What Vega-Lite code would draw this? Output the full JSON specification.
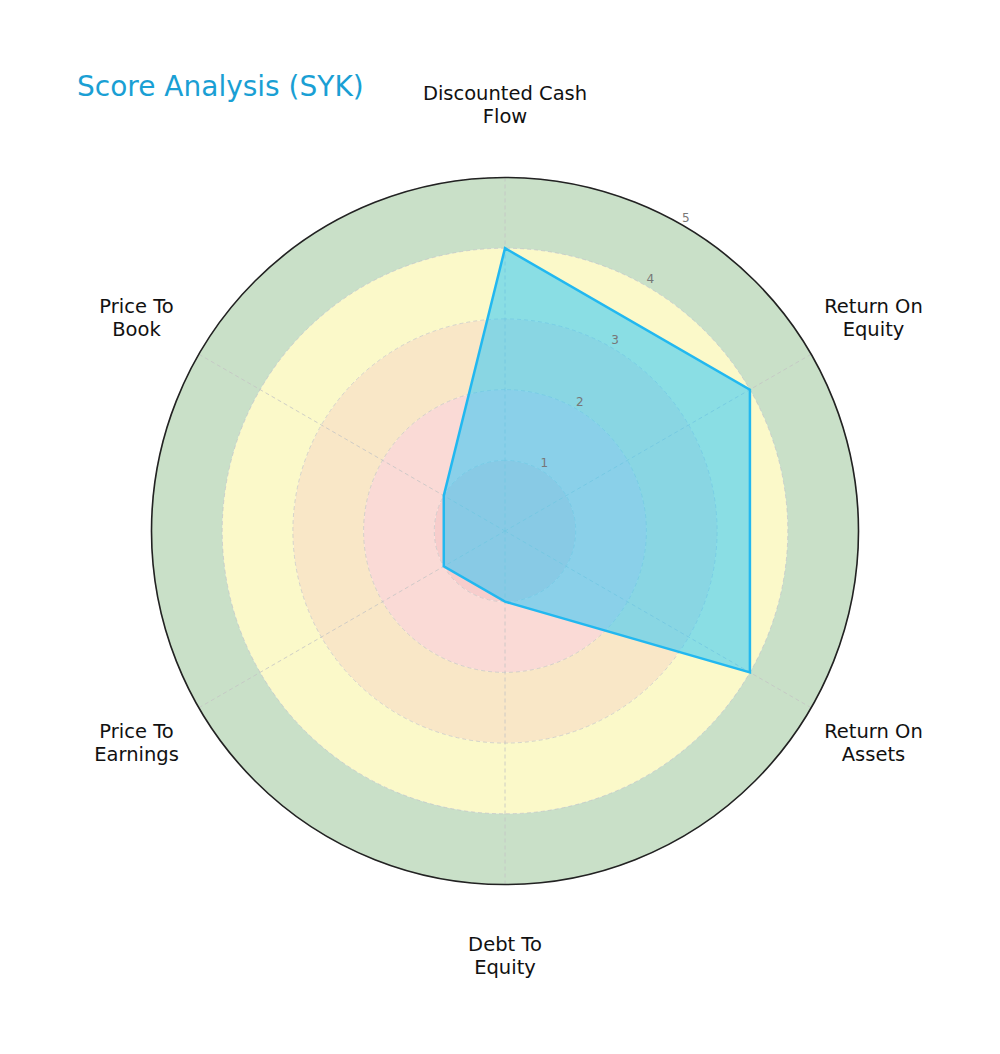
{
  "$schema": "https://vega.github.io/schema/vega-lite/v6.json",
  "width": 1000,
  "height": 1054,
  "autosize": "none",
  "padding": {"left": 5, "top": 4, "right": 0, "bottom": 0},
  "background": "white",
  "title": {
    "text": "Score Analysis (SYK)",
    "anchor": "start",
    "frame": "group",
    "fontSize": 28,
    "fontWeight": "normal",
    "font": "DejaVu Sans",
    "color": "#1a9fd4",
    "baseline": "alphabetic",
    "dx": 72,
    "offset": -120
  },
  "config": {"view": {"stroke": null}, "font": "DejaVu Sans"},
  "datasets": {
    "zones": [
      {"zone": "0-1", "r0": 0, "r1": 1},
      {"zone": "1-2", "r0": 1, "r1": 2},
      {"zone": "2-3", "r0": 2, "r1": 3},
      {"zone": "3-4", "r0": 3, "r1": 4},
      {"zone": "4-5", "r0": 4, "r1": 5}
    ],
    "rings": [{"r": 1}, {"r": 2}, {"r": 3}, {"r": 4}, {"r": 5}],
    "scores": [
      {"i": 0, "metric": "Discounted Cash\nFlow", "angle": 0, "score": 4},
      {"i": 1, "metric": "Return On\nEquity", "angle": 60, "score": 4},
      {"i": 2, "metric": "Return On\nAssets", "angle": 120, "score": 4},
      {"i": 3, "metric": "Debt To\nEquity", "angle": 180, "score": 1},
      {"i": 4, "metric": "Price To\nEarnings", "angle": 240, "score": 1},
      {"i": 5, "metric": "Price To\nBook", "angle": 300, "score": 1}
    ]
  },
  "layer": [
    {
      "data": {"name": "zones"},
      "mark": {"type": "arc"},
      "encoding": {
        "theta": {"datum": 360, "type": "quantitative", "stack": false, "scale": {"type": "linear", "domain": [0, 360], "range": [0, 6.2832]}},
        "theta2": {"datum": 0},
        "radius": {"field": "r1", "type": "quantitative", "stack": false, "scale": {"type": "linear", "domain": [0, 5], "range": [0, 353.5], "zero": true}},
        "radius2": {"field": "r0"},
        "color": {
          "field": "zone",
          "type": "nominal",
          "legend": null,
          "scale": {"domain": ["0-1", "1-2", "2-3", "3-4", "4-5"], "range": ["#f7cdcc", "#fadad6", "#f9e7c7", "#fbf9c9", "#c9e0c8"]}
        }
      }
    },
    {
      "data": {"name": "rings"},
      "mark": {"type": "arc", "filled": false, "stroke": "#c4c4c4", "strokeWidth": 0.7, "strokeDash": [4, 3]},
      "encoding": {
        "theta": {"datum": 360, "type": "quantitative", "stack": false, "scale": {"type": "linear", "domain": [0, 360], "range": [0, 6.2832]}},
        "theta2": {"datum": 0},
        "radius": {"field": "r", "type": "quantitative", "stack": false, "scale": {"type": "linear", "domain": [0, 5], "range": [0, 353.5], "zero": true}}
      }
    },
    {
      "data": {"name": "scores"},
      "transform": [
        {"calculate": "5 * sin(datum.angle * PI / 180)", "as": "ex"},
        {"calculate": "5 * cos(datum.angle * PI / 180)", "as": "ey"}
      ],
      "mark": {"type": "rule", "stroke": "#c4c4c4", "strokeWidth": 0.8, "strokeDash": [4, 3]},
      "encoding": {
        "x": {"field": "ex", "type": "quantitative", "scale": {"domain": [-7.072, 7.072]}, "axis": null},
        "y": {"field": "ey", "type": "quantitative", "scale": {"domain": [-7.454, 7.454]}, "axis": null},
        "x2": {"datum": 0},
        "y2": {"datum": 0}
      }
    },
    {
      "data": {"name": "scores"},
      "transform": [
        {"calculate": "datum.score * sin(datum.angle * PI / 180)", "as": "px"},
        {"calculate": "datum.score * cos(datum.angle * PI / 180)", "as": "py"}
      ],
      "mark": {"type": "line", "interpolate": "linear-closed", "fill": "#2ec8fa", "fillOpacity": 0.55, "stroke": "#22b8f0", "strokeWidth": 2.5},
      "encoding": {
        "x": {"field": "px", "type": "quantitative", "scale": {"domain": [-7.072, 7.072]}, "axis": null},
        "y": {"field": "py", "type": "quantitative", "scale": {"domain": [-7.454, 7.454]}, "axis": null},
        "order": {"field": "i", "type": "quantitative"}
      }
    },
    {
      "data": {"values": [{"r": 5}]},
      "mark": {"type": "arc", "filled": false, "stroke": "#222222", "strokeWidth": 1.6},
      "encoding": {
        "theta": {"datum": 360, "type": "quantitative", "stack": false, "scale": {"type": "linear", "domain": [0, 360], "range": [0, 6.2832]}},
        "theta2": {"datum": 0},
        "radius": {"field": "r", "type": "quantitative", "stack": false, "scale": {"type": "linear", "domain": [0, 5], "range": [0, 353.5], "zero": true}}
      }
    },
    {
      "data": {"name": "rings"},
      "mark": {"type": "text", "fontSize": 12, "color": "#777777", "radiusOffset": 8, "align": "center", "baseline": "middle"},
      "encoding": {
        "theta": {"datum": 30, "type": "quantitative", "stack": false, "scale": {"type": "linear", "domain": [0, 360], "range": [0, 6.2832]}},
        "radius": {"field": "r", "type": "quantitative", "stack": false, "scale": {"type": "linear", "domain": [0, 5], "range": [0, 353.5], "zero": true}},
        "text": {"field": "r", "type": "nominal"}
      }
    },
    {
      "data": {"name": "scores"},
      "mark": {"type": "text", "fontSize": 19.5, "color": "#111111", "radiusOffset": 72, "dy": -11.5, "align": "center", "baseline": "middle", "lineBreak": "\n", "lineHeight": 23},
      "encoding": {
        "theta": {"field": "angle", "type": "quantitative", "stack": false, "scale": {"type": "linear", "domain": [0, 360], "range": [0, 6.2832]}},
        "radius": {"datum": 5, "type": "quantitative", "scale": {"type": "linear", "domain": [0, 5], "range": [0, 353.5], "zero": true}},
        "text": {"field": "metric", "type": "nominal"}
      }
    }
  ]
}
